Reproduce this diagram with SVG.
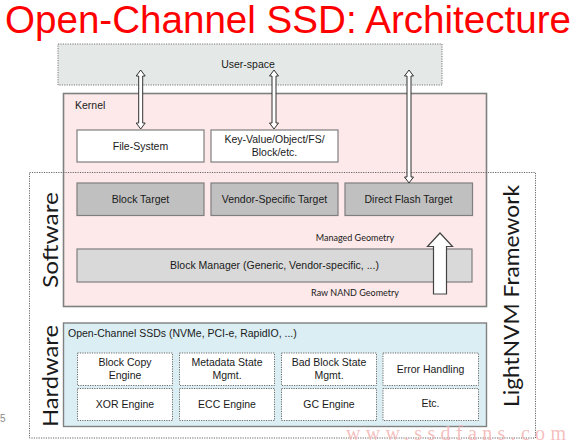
<svg xmlns="http://www.w3.org/2000/svg" width="576" height="443" viewBox="0 0 576 443">
<style>
  .t { font-family: "Liberation Sans", Arial, sans-serif; font-size: 10.5px; fill: #1a1a1a; text-anchor: middle; }
  .tl { text-anchor: start; }
  .cal { font-family: Lato, "Liberation Sans", sans-serif; fill: #1a1a1a; }
  .geo { font-size: 9px; text-anchor: middle; }
  .box { stroke: #7f7f7f; stroke-width: 1.2; }
  .white { fill: #ffffff; }
  .gray { fill: #c0c0c0; }
  .dot { fill: #ffffff; stroke: #6a6a6a; stroke-width: 1; stroke-dasharray: 1.2 1.2; }
  .arrow { fill: #ffffff; stroke: #333333; stroke-width: 1; }
</style>
<rect width="576" height="443" fill="#ffffff"/>
<text x="288" y="33" font-family="'Liberation Sans', Arial, sans-serif" font-size="38" fill="#ff0000" text-anchor="middle" textLength="566" lengthAdjust="spacingAndGlyphs">Open-Channel SSD: Architecture</text>

<g id="user-space">
  <rect x="58" y="44" width="384" height="41" fill="#e4e8e7" stroke="#777" stroke-width="1" stroke-dasharray="1.2 1.2"/>
  <text class="t" x="248" y="68">User-space</text>
</g>

<g id="kernel">
  <rect x="63.5" y="93.5" width="423" height="213" fill="#fde9e9" stroke="#808080" stroke-width="1.6"/>
  <text class="t tl" x="75" y="109">Kernel</text>
</g>

<g id="file-system">
  <rect class="box white" x="77" y="130" width="127" height="32"/>
  <text class="t" x="140.5" y="150">File-System</text>
</g>
<g id="key-value">
  <rect class="box white" x="211" y="130" width="127" height="32"/>
  <text class="t" x="274.5" y="143">Key-Value/Object/FS/</text>
  <text class="t" x="274.5" y="155.5">Block/etc.</text>
</g>

<g id="lightnvm">
  <rect x="29.5" y="172.5" width="506" height="265.5" fill="none" stroke="#666" stroke-width="1" stroke-dasharray="1.2 1.2"/>
  <text class="cal" font-size="22" text-anchor="middle" transform="translate(519 296) rotate(-90)" textLength="222" lengthAdjust="spacingAndGlyphs">LightNVM Framework</text>
</g>

<g id="software-label">
  <text class="cal" font-size="22" text-anchor="middle" transform="translate(58 240) rotate(-90)" textLength="96" lengthAdjust="spacingAndGlyphs">Software</text>
</g>
<g id="hardware-label">
  <text class="cal" font-size="22" text-anchor="middle" transform="translate(58 376) rotate(-90)" textLength="102" lengthAdjust="spacingAndGlyphs">Hardware</text>
</g>

<g id="block-target">
  <rect class="box gray" x="77" y="183" width="127" height="32.5"/>
  <text class="t" x="140.5" y="203">Block Target</text>
</g>
<g id="vendor-target">
  <rect class="box gray" x="211" y="183" width="127" height="32.5"/>
  <text class="t" x="274.5" y="203">Vendor-Specific Target</text>
</g>
<g id="direct-flash-target">
  <rect class="box gray" x="345" y="183" width="127.5" height="32.5"/>
  <text class="t" x="408.5" y="203">Direct Flash Target</text>
</g>

<g id="managed-geometry">
  <text class="cal geo" x="355" y="241">Managed Geometry</text>
</g>

<g id="block-manager">
  <rect class="box" x="77" y="249" width="395" height="33" fill="#d9d9d9"/>
  <text class="t" x="274.5" y="269">Block Manager (Generic, Vendor-specific, ...)</text>
</g>

<g id="raw-nand">
  <text class="cal geo" x="355" y="296">Raw NAND Geometry</text>
</g>

<g id="open-channel-ssds">
  <rect x="63.5" y="323" width="423" height="103.5" fill="#dbeef4" stroke="#808080" stroke-width="1.4"/>
  <text class="t tl" x="68" y="337">Open-Channel SSDs (NVMe, PCI-e, RapidIO, ...)</text>
</g>

<g id="block-copy">
  <rect class="dot" x="77.5" y="353" width="95" height="32.5"/>
  <text class="t" x="125" y="366">Block Copy</text>
  <text class="t" x="125" y="379">Engine</text>
</g>
<g id="metadata">
  <rect class="dot" x="179.5" y="353" width="95" height="32.5"/>
  <text class="t" x="227" y="366">Metadata State</text>
  <text class="t" x="227" y="379">Mgmt.</text>
</g>
<g id="bad-block">
  <rect class="dot" x="281.5" y="353" width="95" height="32.5"/>
  <text class="t" x="329" y="366">Bad Block State</text>
  <text class="t" x="329" y="379">Mgmt.</text>
</g>
<g id="error-handling">
  <rect class="dot" x="383" y="353" width="95.5" height="32.5"/>
  <text class="t" x="430.5" y="372.5">Error Handling</text>
</g>
<g id="xor-engine">
  <rect class="dot" x="77.5" y="388.5" width="95" height="32"/>
  <text class="t" x="125" y="408">XOR Engine</text>
</g>
<g id="ecc-engine">
  <rect class="dot" x="179.5" y="388.5" width="95" height="32"/>
  <text class="t" x="227" y="408">ECC Engine</text>
</g>
<g id="gc-engine">
  <rect class="dot" x="281.5" y="388.5" width="95" height="32"/>
  <text class="t" x="329" y="408">GC Engine</text>
</g>
<g id="etc">
  <rect class="dot" x="383" y="388.5" width="95.5" height="32"/>
  <text class="t" x="430.5" y="407">Etc.</text>
</g>

<g id="connectors">
  <path class="arrow" d="M140.7 70 L145.2 76 L142.7 76 L142.7 123 L145.2 123 L140.7 129 L136.2 123 L138.7 123 L138.7 76 L136.2 76 Z"/>
  <path class="arrow" d="M274 70 L278.5 76 L276 76 L276 123 L278.5 123 L274 129 L269.5 123 L272 123 L272 76 L269.5 76 Z"/>
  <path class="arrow" d="M409 70 L413.5 76 L411 76 L411 177 L413.5 177 L409 183 L404.5 177 L407 177 L407 76 L404.5 76 Z"/>
  <path d="M440 233 L452.5 246.5 L446.5 246.5 L446.5 294 L433.5 294 L433.5 246.5 L427.5 246.5 Z" fill="#ffffff" stroke="#444" stroke-width="1.2"/>
</g>

<text x="0" y="422" font-family="'Liberation Sans', Arial, sans-serif" font-size="10" fill="#8a8a8a">5</text>
<text x="346" y="440" font-family="'Liberation Serif', 'Times New Roman', serif" font-size="20" fill="#f4b4b4" fill-opacity="0.85" textLength="220" lengthAdjust="spacing">www.ssdfans.com</text>
</svg>
